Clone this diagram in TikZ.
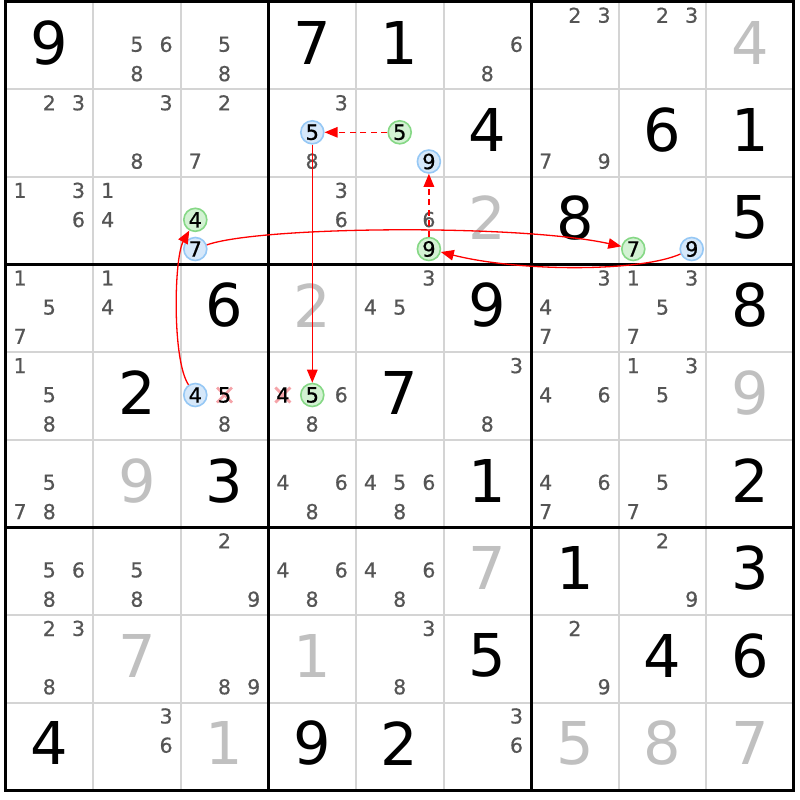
\documentclass[tikz,border=0pt]{standalone}
\usepackage{fontspec}
\setmainfont{DejaVu Sans}
\newfontfamily\smallfont{DejaVu Sans}[FakeBold=0.6]
\usetikzlibrary{arrows.meta}
\definecolor{candc}{HTML}{555555}
\definecolor{solvc}{HTML}{C0C0C0}
\definecolor{thinc}{HTML}{D4D4D4}
\definecolor{gfill}{HTML}{D3F2D3}
\definecolor{gline}{HTML}{86D886}
\definecolor{bfill}{HTML}{D6E8FA}
\definecolor{bline}{HTML}{96C8F5}
\definecolor{xcol}{HTML}{F5A3A8}
\newcommand\csz{87.6}
\newcommand\gridx{5.5}
\newcommand\gridy{1.8}
\newcommand\mkcands[3]{%
  \foreach \dd in {#3}{%
    \pgfmathsetmacro\px{\gridx+(#2+0.5)*\csz+(mod(\dd-1,3)-1)*29.2}%
    \pgfmathsetmacro\py{\gridy+(#1+0.5)*\csz+(int((\dd-1)/3)-1)*29.2-1.2}%
    \node[cand] (k#1#2\dd) at (\px,\py) {\dd};}}
\tikzset{
  given/.style={inner sep=0pt, font=\fontsize{59}{59}\selectfont, text=black},
  solved/.style={given, text=solvc},
  cand/.style={inner sep=0pt, font=\smallfont\fontsize{20.5}{20.5}\selectfont, text=candc},
  gc/.style={circle, inner sep=0pt, minimum size=23pt, draw=gline, fill=gfill, line width=1.6pt, font=\smallfont\fontsize{21}{21}\selectfont, text=black},
  bc/.style={gc, draw=bline, fill=bfill},
  xd/.style={inner sep=0pt, font=\smallfont\fontsize{21}{21}\selectfont, text=black},
  xmark/.style={xcol, line width=2.8pt},
  thinline/.style={thinc, line width=2pt},
  thickline/.style={black, line width=3pt},
  link/.style={red, line width=1.3pt, -{Triangle[length=13pt,width=10.5pt]}},
  dlink/.style={link, dash pattern=on 6pt off 4.5pt},
}
\begin{document}
\begin{tikzpicture}[x=1pt,y=-1pt]
\fill[white] (0,0) rectangle (800,800);
\useasboundingbox (0,0) rectangle (800,800);
% grid
\foreach \i in {1,2,4,5,7,8}{
  \draw[thinline] ({\gridx+\i*\csz},\gridy) -- ({\gridx+\i*\csz},{\gridy+9*\csz});
  \draw[thinline] (\gridx,{\gridy+\i*\csz}) -- ({\gridx+9*\csz},{\gridy+\i*\csz});
}
\foreach \i in {0,3,6,9}{
  \draw[thickline] ({\gridx+\i*\csz},{\gridy-1.5}) -- ({\gridx+\i*\csz},{\gridy+9*\csz+1.5});
  \draw[thickline] ({\gridx-1.5},{\gridy+\i*\csz}) -- ({\gridx+9*\csz+1.5},{\gridy+\i*\csz});
}
% givens
\foreach \r/\c/\d in {0/0/9,0/3/7,0/4/1,1/5/4,1/7/6,1/8/1,2/6/8,2/8/5,3/2/6,3/5/9,3/8/8,
  4/1/2,4/4/7,5/2/3,5/5/1,5/8/2,6/6/1,6/8/3,7/5/5,7/7/4,7/8/6,8/0/4,8/3/9,8/4/2}{
  \node[given] (v\r\c) at ({\gridx+(\c+0.5)*\csz},{\gridy+(\r+0.5)*\csz-3}) {\d};
}
% solved
\foreach \r/\c/\d in {0/8/4,2/5/2,3/3/2,4/8/9,5/1/9,6/5/7,7/1/7,7/3/1,8/2/1,8/6/5,8/7/8,8/8/7}{
  \node[solved] (v\r\c) at ({\gridx+(\c+0.5)*\csz},{\gridy+(\r+0.5)*\csz-3}) {\d};
}
% candidates
\mkcands{0}{1}{5,6,8}\mkcands{0}{2}{5,8}\mkcands{0}{5}{6,8}\mkcands{0}{6}{2,3}\mkcands{0}{7}{2,3}
\mkcands{1}{0}{2,3}\mkcands{1}{1}{3,8}\mkcands{1}{2}{2,7}\mkcands{1}{3}{3,8}\mkcands{1}{6}{7,9}
\mkcands{2}{0}{1,3,6}\mkcands{2}{1}{1,4}\mkcands{2}{3}{3,6}\mkcands{2}{4}{6}
\mkcands{3}{0}{1,5,7}\mkcands{3}{1}{1,4}\mkcands{3}{4}{3,4,5}\mkcands{3}{6}{3,4,7}\mkcands{3}{7}{1,3,5,7}
\mkcands{4}{0}{1,5,8}\mkcands{4}{2}{8}\mkcands{4}{3}{6,8}\mkcands{4}{5}{3,8}\mkcands{4}{6}{4,6}\mkcands{4}{7}{1,3,5}
\mkcands{5}{0}{5,7,8}\mkcands{5}{3}{4,6,8}\mkcands{5}{4}{4,5,6,8}\mkcands{5}{6}{4,6,7}\mkcands{5}{7}{5,7}
\mkcands{6}{0}{5,6,8}\mkcands{6}{1}{5,8}\mkcands{6}{2}{2,9}\mkcands{6}{3}{4,6,8}\mkcands{6}{4}{4,6,8}\mkcands{6}{7}{2,9}
\mkcands{7}{0}{2,3,8}\mkcands{7}{2}{8,9}\mkcands{7}{4}{3,8}\mkcands{7}{6}{2,9}
\mkcands{8}{1}{3,6}\mkcands{8}{5}{3,6}
% eliminated candidates
\coordinate (xa) at (224.5,395);
\coordinate (xb) at (282.9,395);
\draw[xmark] (xa) ++(-7.5,-7.5) -- ++(15,15) (xa) ++(-7.5,7.5) -- ++(15,-15);
\draw[xmark] (xb) ++(-7.5,-7.5) -- ++(15,15) (xb) ++(-7.5,7.5) -- ++(15,-15);
\node[xd] (k425) at (xa) {5};
\node[xd] (k434) at (xb) {4};
% highlighted candidates
\node[bc] (b5a) at (312.3,132.3) {5};
\node[gc] (g5a) at (399.7,132.3) {5};
\node[bc] (b9a) at (428.9,161.5) {9};
\node[gc] (g4a) at (195.3,219.8) {4};
\node[bc] (b7a) at (195.3,249) {7};
\node[gc] (g9a) at (428.9,249) {9};
\node[gc] (g7a) at (633.3,249) {7};
\node[bc] (b9b) at (691.7,249) {9};
\node[bc] (b4a) at (195.3,395) {4};
\node[gc] (g5b) at (312.3,395) {5};
% links
\draw[dlink] (g5a) -- (b5a);
\draw[dlink] (g9a) -- (b9a);
\draw[link] (b5a) -- (g5b);
\draw[link] (b4a) .. controls (172,360) and (174,258) .. (g4a);
\draw[link] (b7a) .. controls (260,226) and (520,224) .. (g7a);
\draw[link] (b9b) .. controls (640,272) and (520,272) .. (g9a);
\end{tikzpicture}
\end{document}
